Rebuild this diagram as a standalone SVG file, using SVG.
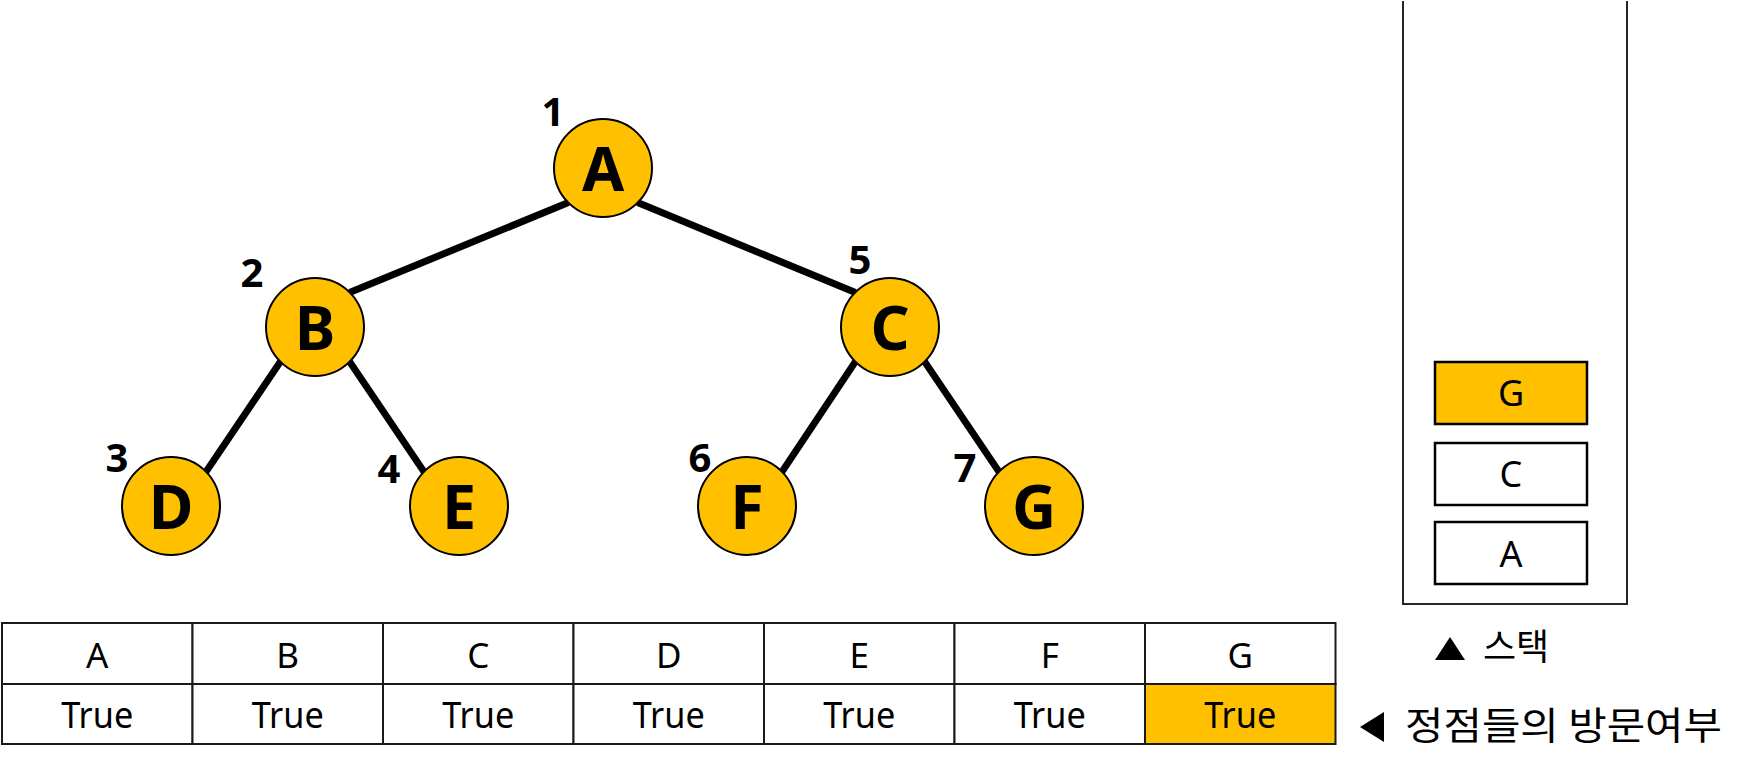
<svg xmlns="http://www.w3.org/2000/svg" width="1742" height="770" viewBox="0 0 1742 770">
  <style>
    .edge { stroke: #000; stroke-width: 7; fill: none; }
    .node circle { fill: #FFC000; stroke: #000; stroke-width: 2; }
    .nl { font-family: "Noto Sans", "Noto Sans CJK KR", sans-serif; font-weight: bold; font-size: 61px; text-anchor: middle; fill: #000; }
    .num { font-family: "Noto Sans", "Noto Sans CJK KR", sans-serif; font-weight: bold; font-size: 40px; text-anchor: middle; fill: #000; }
    .cell { fill: #fff; stroke: #1a1a1a; stroke-width: 2; }
    .cellY { fill: #FFC000; stroke: #1a1a1a; stroke-width: 2; }
    .th { font-family: "Noto Sans", "Noto Sans CJK KR", sans-serif; font-size: 35px; text-anchor: middle; fill: #000; }
    .tv { font-family: "Noto Sans", "Noto Sans CJK KR", sans-serif; font-size: 37px; text-anchor: middle; fill: #000; }
    .sbox { fill: #fff; stroke: #000; stroke-width: 2.5; }
    .sboxY { fill: #FFC000; stroke: #000; stroke-width: 2.5; }
    .st { font-family: "Noto Sans", "Noto Sans CJK KR", sans-serif; font-size: 36px; text-anchor: middle; fill: #000; }
    .kr { font-family: "Noto Sans CJK KR", "Noto Sans", sans-serif; fill: #000; }
  </style>

  <g id="connectors">
    <line class="edge" x1="568.4" y1="202.6" x2="349.6" y2="292.4"/>
    <line class="edge" x1="637.6" y1="202.6" x2="855.4" y2="292.4"/>
    <line class="edge" x1="280.4" y1="361.6" x2="205.6" y2="472.4"/>
    <line class="edge" x1="349.6" y1="361.6" x2="424.4" y2="472.4"/>
    <line class="edge" x1="855.4" y1="361.6" x2="781.6" y2="472.4"/>
    <line class="edge" x1="924.6" y1="361.6" x2="999.4" y2="472.4"/>
  </g>

  <g id="node-A" class="node">
    <circle cx="603" cy="168" r="49"/>
    <text class="nl" x="603" y="191">A</text>
    <text class="num" x="553" y="126">1</text>
  </g>
  <g id="node-B" class="node">
    <circle cx="315" cy="327" r="49"/>
    <text class="nl" x="315" y="350">B</text>
    <text class="num" x="252" y="287">2</text>
  </g>
  <g id="node-C" class="node">
    <circle cx="890" cy="327" r="49"/>
    <text class="nl" x="890" y="350">C</text>
    <text class="num" x="860" y="274">5</text>
  </g>
  <g id="node-D" class="node">
    <circle cx="171" cy="506" r="49"/>
    <text class="nl" x="171" y="529">D</text>
    <text class="num" x="117" y="472">3</text>
  </g>
  <g id="node-E" class="node">
    <circle cx="459" cy="506" r="49"/>
    <text class="nl" x="459" y="529">E</text>
    <text class="num" x="389" y="483">4</text>
  </g>
  <g id="node-F" class="node">
    <circle cx="747" cy="506" r="49"/>
    <text class="nl" x="747" y="529">F</text>
    <text class="num" x="700" y="472">6</text>
  </g>
  <g id="node-G" class="node">
    <circle cx="1034" cy="506" r="49"/>
    <text class="nl" x="1034" y="529">G</text>
    <text class="num" x="965" y="482">7</text>
  </g>

  <g id="visited-table">
    <rect class="cell" x="2" y="623" width="190.5" height="61"/>
    <rect class="cell" x="192.5" y="623" width="190.5" height="61"/>
    <rect class="cell" x="383" y="623" width="190.5" height="61"/>
    <rect class="cell" x="573.5" y="623" width="190.5" height="61"/>
    <rect class="cell" x="764" y="623" width="190.5" height="61"/>
    <rect class="cell" x="954.5" y="623" width="190.5" height="61"/>
    <rect class="cell" x="1145" y="623" width="190.5" height="61"/>
    <rect class="cell" x="2" y="684" width="190.5" height="60"/>
    <rect class="cell" x="192.5" y="684" width="190.5" height="60"/>
    <rect class="cell" x="383" y="684" width="190.5" height="60"/>
    <rect class="cell" x="573.5" y="684" width="190.5" height="60"/>
    <rect class="cell" x="764" y="684" width="190.5" height="60"/>
    <rect class="cell" x="954.5" y="684" width="190.5" height="60"/>
    <rect class="cellY" x="1145" y="684" width="190.5" height="60"/>
    <text class="th" x="97.25" y="668">A</text>
    <text class="th" x="287.75" y="668">B</text>
    <text class="th" x="478.25" y="668">C</text>
    <text class="th" x="668.75" y="668">D</text>
    <text class="th" x="859.25" y="668">E</text>
    <text class="th" x="1049.75" y="668">F</text>
    <text class="th" x="1240.25" y="668">G</text>
    <text class="tv" x="97.25" y="728" textLength="72" lengthAdjust="spacingAndGlyphs">True</text>
    <text class="tv" x="287.75" y="728" textLength="72" lengthAdjust="spacingAndGlyphs">True</text>
    <text class="tv" x="478.25" y="728" textLength="72" lengthAdjust="spacingAndGlyphs">True</text>
    <text class="tv" x="668.75" y="728" textLength="72" lengthAdjust="spacingAndGlyphs">True</text>
    <text class="tv" x="859.25" y="728" textLength="72" lengthAdjust="spacingAndGlyphs">True</text>
    <text class="tv" x="1049.75" y="728" textLength="72" lengthAdjust="spacingAndGlyphs">True</text>
    <text class="tv" x="1240.25" y="728" textLength="72" lengthAdjust="spacingAndGlyphs">True</text>
  </g>

  <g id="stack">
    <polyline points="1403,1 1403,604 1627,604 1627,1" fill="none" stroke="#262626" stroke-width="2"/>
    <rect class="sboxY" x="1435" y="362" width="152" height="62"/>
    <text class="st" x="1511" y="406">G</text>
    <rect class="sbox" x="1435" y="443" width="152" height="62"/>
    <text class="st" x="1511" y="487">C</text>
    <rect class="sbox" x="1435" y="522" width="152" height="62"/>
    <text class="st" x="1511" y="567">A</text>
  </g>

  <g id="legend-stack">
    <polygon points="1435,660 1465,660 1450,637" fill="#000"/>
    <text class="kr" x="1483" y="660" font-size="36">스택</text>
  </g>
  <g id="legend-visited">
    <polygon points="1384,712 1384,742 1360,727" fill="#000"/>
    <text class="kr" x="1405" y="739" font-size="38" textLength="317" lengthAdjust="spacingAndGlyphs">정점들의 방문여부</text>
  </g>
</svg>
